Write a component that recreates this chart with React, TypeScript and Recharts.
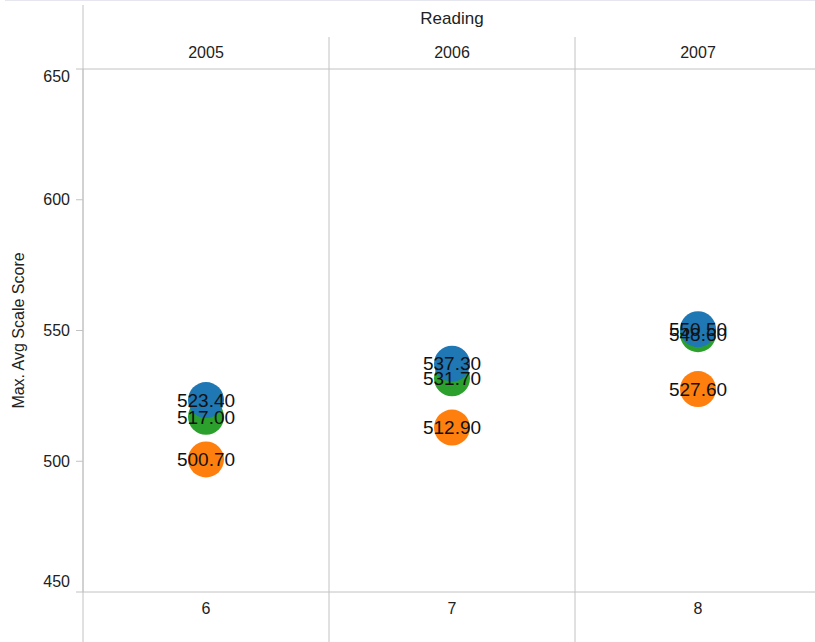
import React from "react";
import {
  ScatterChart,
  Scatter,
  XAxis,
  YAxis,
  ReferenceLine,
  LabelList,
  Label,
} from "recharts";

const grades = ["6", "7", "8"];
const years = ["2005", "2006", "2007"];
const blueScores = [523.4, 537.3, 550.5];
const greenScores = [517.0, 531.7, 548.6];
const orangeScores = [500.7, 512.9, 527.6];
const yTicks = [450, 500, 550, 600, 650];
const yDomain: [number, number] = [450, 650];

const FONT = "'Liberation Sans', Arial, Helvetica, sans-serif";
const LINE = "#c2c2c2";
const CHART_W = 821;
const CHART_H = 642;
const M_TOP = 37;
const TOP_AXIS_H = 32;
const BOTTOM_AXIS_H = 50;
const Y_AXIS_W = 83;
const PLOT_TOP = M_TOP + TOP_AXIS_H;
const PLOT_BOTTOM = CHART_H - BOTTOM_AXIS_H;

// convert a pixel row to a y-axis value (for decoration lines extending beyond plot)
const pyToValue = (py: number) =>
  yDomain[0] + ((PLOT_BOTTOM - py) * (yDomain[1] - yDomain[0])) / (PLOT_BOTTOM - PLOT_TOP);

const makeSeries = (vals: number[]) =>
  vals.map((v, i) => ({ x: i + 0.5, y: v, grade: grades[i], year: years[i] }));

const blueData = makeSeries(blueScores);
const greenData = makeSeries(greenScores);
const orangeData = makeSeries(orangeScores);

const xTicks = grades.map((_, i) => i + 0.5);

const Dot = (color: string) => (props: any) => (
  <circle cx={props.cx} cy={props.cy} r={18} fill={color} />
);

const NoDot = () => <g />;

const YTick = (props: any) => {
  const { x, y, payload } = props;
  let dy = 0;
  if (payload.value === yDomain[1]) dy = 7;
  if (payload.value === yDomain[0]) dy = -11;
  return (
    <text
      x={x}
      y={y + dy}
      textAnchor="end"
      dominantBaseline="central"
      fontFamily={FONT}
      fontSize={16}
      fill="#222"
    >
      {payload.value}
    </text>
  );
};

const labelProps = {
  position: "center" as const,
  fill: "#111",
  fontSize: 19,
  fontFamily: FONT,
  formatter: (v: any) => Number(v).toFixed(2),
};

export default function App() {
  return (
    <div
      style={{
        position: "absolute",
        left: 0,
        top: 0,
        width: 815,
        height: 642,
        overflow: "hidden",
        background: "#fff",
      }}
    >
      <div
        style={{
          position: "absolute",
          left: 5,
          top: 0,
          width: 810,
          height: 1,
          background: "#e6e6ee",
        }}
      />
      <ScatterChart
        width={CHART_W}
        height={CHART_H}
        margin={{ top: M_TOP, right: 0, bottom: 0, left: 0 }}
      >
        <XAxis
          xAxisId="grade"
          dataKey="x"
          type="number"
          orientation="bottom"
          domain={[0, grades.length]}
          ticks={xTicks}
          tickFormatter={(v: number) => grades[Math.floor(v)]}
          height={BOTTOM_AXIS_H}
          axisLine={{ stroke: LINE }}
          tickLine={false}
          tickSize={0}
          tickMargin={11}
          tick={{ fill: "#222", fontSize: 16, fontFamily: FONT }}
          allowDataOverflow
        />
        <XAxis
          xAxisId="year"
          dataKey="x"
          type="number"
          orientation="top"
          domain={[0, years.length]}
          ticks={xTicks}
          tickFormatter={(v: number) => years[Math.floor(v)]}
          height={TOP_AXIS_H}
          axisLine={{ stroke: LINE }}
          tickLine={false}
          tickSize={0}
          tickMargin={11}
          tick={{ fill: "#222", fontSize: 16, fontFamily: FONT }}
          allowDataOverflow
        >
          <Label
            value="Reading"
            position="top"
            offset={13}
            fill="#222"
            fontSize={17}
            fontFamily={FONT}
          />
        </XAxis>
        <YAxis
          dataKey="y"
          type="number"
          domain={yDomain}
          ticks={yTicks}
          width={Y_AXIS_W}
          axisLine={{ stroke: LINE }}
          tickLine={{ stroke: LINE }}
          tickSize={7}
          tickMargin={6}
          tick={<YTick />}
          allowDataOverflow
        >
          <Label
            value="Max. Avg Scale Score"
            angle={-90}
            position="insideLeft"
            offset={18}
            fill="#222"
            fontSize={16}
            fontFamily={FONT}
            style={{ textAnchor: "middle" }}
          />
        </YAxis>
        <ReferenceLine
          xAxisId="grade"
          ifOverflow="visible"
          stroke={LINE}
          segment={[
            { x: 0, y: pyToValue(5) },
            { x: 0, y: pyToValue(CHART_H) },
          ]}
        />
        {grades.slice(1).map((_, i) => (
          <ReferenceLine
            key={i}
            xAxisId="grade"
            ifOverflow="visible"
            stroke={LINE}
            segment={[
              { x: i + 1, y: pyToValue(M_TOP) },
              { x: i + 1, y: pyToValue(CHART_H) },
            ]}
          />
        ))}
        <Scatter
          xAxisId="year"
          data={blueData}
          shape={NoDot}
          isAnimationActive={false}
          legendType="none"
        />
        <Scatter
          xAxisId="grade"
          data={orangeData}
          fill="#ff7f0e"
          shape={Dot("#ff7f0e")}
          isAnimationActive={false}
        >
          <LabelList dataKey="y" {...labelProps} />
        </Scatter>
        <Scatter
          xAxisId="grade"
          data={greenData}
          fill="#2ca02c"
          shape={Dot("#2ca02c")}
          isAnimationActive={false}
        >
          <LabelList dataKey="y" {...labelProps} />
        </Scatter>
        <Scatter
          xAxisId="grade"
          data={blueData}
          fill="#1f77b4"
          shape={Dot("#1f77b4")}
          isAnimationActive={false}
        >
          <LabelList dataKey="y" {...labelProps} />
        </Scatter>
      </ScatterChart>
    </div>
  );
}
